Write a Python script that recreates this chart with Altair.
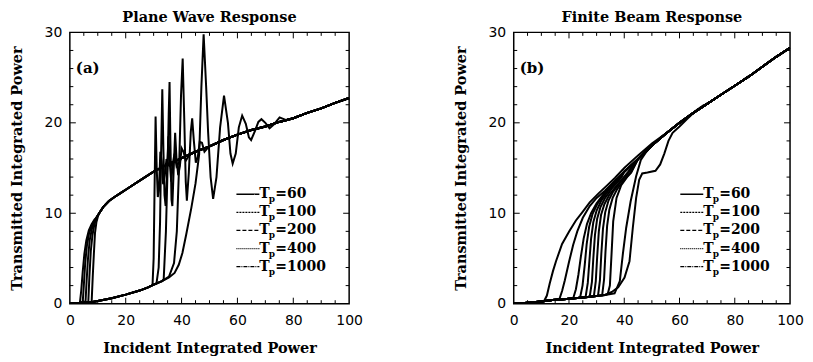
import altair as alt
import pandas as pd

# ---------------- data ----------------
TP = ["60", "100", "200", "400", "1000"]
LEGEND_DASHES = [[1, 0], [2, 1], [4, 2], [1, 1], [4, 1, 1, 1]]

X_TICKS = [0, 20, 40, 60, 80, 100]
Y_TICKS = [0, 10, 20, 30]
X_MAJOR_IN = [20, 40, 60, 80]
X_MINOR_IN = [5, 10, 15, 25, 30, 35, 45, 50, 55, 65, 70, 75, 85, 90, 95]
Y_MAJOR_IN = [10, 20]
Y_MINOR_IN = [2, 4, 6, 8, 12, 14, 16, 18, 22, 24, 26, 28]

# ---- panel (a): plane wave ----
A_LOW_X = [0, 2, 4, 6, 8, 10, 15, 20, 25, 28, 30, 33]
A_LOW_Y = [0.0, 0.05, 0.1, 0.15, 0.2, 0.3, 0.6, 1.0, 1.45, 1.8, 2.1, 2.5]
A_UP_X = [9.5, 10.5, 12, 14, 16, 18, 20, 25, 30, 35, 40, 45, 50, 55, 60, 65, 70, 75, 80, 85, 90, 95, 100]
A_UP_Y = [9.5, 10.0, 10.7, 11.35, 11.8, 12.2, 12.6, 13.6, 14.6, 15.4, 16.1, 16.8, 17.4, 18.1, 18.7, 19.2,
          19.6, 20.1, 20.5, 21.1, 21.6, 22.2, 22.75]

A_L1_X = [3.6, 4.1, 4.6, 5.2, 5.9, 6.8, 7.8, 8.8]
A_L1_Y = [0.1, 1.5, 3.5, 5.5, 7.0, 8.1, 8.8, 9.3]
A_L2_X = [4.6, 5.0, 5.5, 6.1, 6.9, 7.9, 8.9]
A_L2_Y = [0.12, 2.0, 4.5, 6.4, 7.8, 8.7, 9.2]
A_L3_X = [5.6, 6.0, 6.5, 7.1, 7.9, 8.8]
A_L3_Y = [0.14, 2.5, 5.0, 7.0, 8.3, 9.1]
A_L4_X = [6.6, 7.0, 7.5, 8.1, 8.8, 9.4]
A_L4_Y = [0.16, 3.0, 5.8, 7.6, 8.8, 9.4]
A_L5_X = [7.8, 8.2, 8.6, 9.0, 9.5, 10.1]
A_L5_Y = [0.19, 3.0, 5.5, 7.8, 9.0, 9.7]

A_H1_X = [29.6, 30.0, 30.3, 30.7, 31.1, 31.5, 31.9, 32.4, 32.9, 33.4, 34.0, 34.6, 35.3, 36.0, 37.0]
A_H1_Y = [2.05, 5.0, 12.0, 20.7, 15.0, 11.8, 12.5, 16.8, 15.8, 13.2, 14.2, 16.0, 15.3, 15.2, 15.6]
A_H2_X = [31.0, 31.8, 32.3, 32.7, 33.1, 33.5, 33.9, 34.3, 34.8, 35.3, 35.8, 36.3, 36.9, 37.5, 38.2, 39.0]
A_H2_Y = [2.2, 4.0, 9.0, 17.0, 23.7, 17.0, 12.0, 10.8, 14.5, 18.5, 15.5, 13.5, 15.6, 16.6, 15.2, 15.6]
A_H3_X = [33.6, 34.4, 35.0, 35.4, 35.7, 36.0, 36.4, 36.7, 37.2, 37.7, 38.2, 38.8, 39.4, 40.0, 40.7, 41.5,
          42.5, 43.5]
A_H3_Y = [2.7, 8.0, 15.0, 21.0, 24.5, 18.0, 11.5, 10.8, 15.0, 18.9, 16.0, 14.2, 15.2, 17.2, 16.8, 15.8,
          16.3, 16.6]
A_H4_X = [35.5, 37.3, 38.3, 39.2, 39.8, 40.4, 41.0, 41.5, 41.9, 42.6, 43.3, 43.8, 44.4, 45.1, 45.8, 46.5,
          47.3, 48.2, 49.0]
A_H4_Y = [3.0, 4.5, 8.0, 16.0, 23.0, 27.1, 20.0, 13.5, 11.4, 14.5, 19.0, 20.5, 18.0, 15.6, 16.2, 17.9,
          17.8, 16.8, 17.1]
A_H5_X = [35.5, 37.5, 39.0, 40.3, 41.7, 43.5, 45.0, 46.3, 47.1, 47.9, 48.8, 49.5, 50.4, 51.3, 52.5, 53.8,
          55.2, 56.6, 57.5, 58.3, 59.4, 60.5, 61.7, 63.0, 64.1, 64.9, 66.3, 67.5, 68.6, 70.0, 71.5, 73.3,
          75.1, 77.5]
A_H5_Y = [2.9, 3.4, 4.3, 5.6, 7.7, 10.6, 13.3, 16.5, 24.0, 29.8, 24.0, 19.0, 14.0, 11.6, 14.0, 19.5,
          23.0, 20.0, 16.6, 15.5, 16.6, 19.5, 20.8, 19.9, 18.4, 18.1, 19.1, 20.1, 20.4, 20.0, 19.4, 19.9,
          20.6, 20.3]

# ---- panel (b): finite beam ----
B_LOW_X = [0, 3, 6, 10, 14, 18, 22, 26, 30, 33]
B_LOW_Y = [0.0, 0.05, 0.12, 0.25, 0.4, 0.5, 0.6, 0.72, 0.85, 0.97]
B_UP_X = [35, 40, 45, 50, 55, 60, 65, 70, 75, 80, 85, 90, 95, 100]
B_UP_Y = [13.1, 14.6, 16.0, 17.5, 18.8, 20.0, 21.1, 22.1, 23.1, 24.1, 25.1, 26.2, 27.3, 28.3]

B_C1_X = [11.0, 12.0, 13.0, 14.2, 15.3, 17.5, 20.1, 22.5, 24.8, 27.5, 30.7, 33.5, 36.6, 40.0, 45.0, 50.0]
B_C1_Y = [0.3, 0.9, 2.2, 3.6, 4.7, 6.6, 8.0, 9.2, 10.1, 11.2, 12.2, 13.0, 13.9, 15.0, 16.4, 17.7]
B_C2_X = [16.5, 17.5, 18.5, 20.0, 21.5, 23.0, 25.0, 27.5, 30.0, 33.0, 36.0, 38.0]
B_C2_Y = [0.48, 1.4, 2.6, 4.6, 6.5, 8.0, 9.5, 10.8, 11.7, 12.5, 13.4, 14.0]
B_C3_X = [21.5, 22.5, 23.4, 24.3, 25.3, 26.5, 28.0, 30.0, 32.5, 35.5, 38.0]
B_C3_Y = [0.58, 1.6, 3.2, 5.2, 7.2, 8.8, 10.0, 11.1, 12.1, 13.1, 13.9]
B_C4_X = [24.0, 24.9, 25.7, 26.4, 27.3, 28.5, 30.2, 32.5, 35.3, 38.0]
B_C4_Y = [0.66, 2.0, 4.3, 6.6, 8.5, 9.9, 11.0, 12.0, 13.0, 13.8]
B_C5_X = [26.0, 26.8, 27.4, 28.0, 28.8, 30.0, 31.7, 34.0, 36.8, 39.0]
B_C5_Y = [0.72, 2.3, 4.8, 7.2, 9.0, 10.3, 11.4, 12.4, 13.3, 14.0]
B_C6_X = [27.5, 28.3, 28.8, 29.4, 30.2, 31.4, 33.1, 35.4, 38.0]
B_C6_Y = [0.77, 2.4, 5.0, 7.6, 9.4, 10.7, 11.7, 12.7, 13.6]
B_C7_X = [29.0, 29.7, 30.2, 30.8, 31.6, 32.8, 34.5, 36.8, 39.0, 41.5]
B_C7_Y = [0.82, 2.5, 5.2, 8.0, 9.8, 11.0, 12.0, 12.9, 13.7, 14.6]
B_C8_X = [30.5, 31.2, 31.7, 32.3, 33.1, 34.3, 36.0, 38.3, 41.0]
B_C8_Y = [0.87, 2.6, 5.5, 8.3, 10.1, 11.4, 12.4, 13.3, 14.3]
B_C9_X = [32.0, 32.7, 33.2, 33.8, 34.6, 35.8, 37.5, 39.8, 42.5]
B_C9_Y = [0.93, 2.7, 5.7, 8.6, 10.4, 11.7, 12.7, 13.6, 14.6]
B_C10_X = [34.0, 34.8, 35.4, 36.0, 37.2, 38.9, 41.0, 42.5]
B_C10_Y = [1.05, 2.0, 5.5, 9.1, 11.7, 13.1, 14.0, 14.5]
B_C11_X = [36.5, 38.4, 39.5, 40.7, 42.3, 44.3, 46.0, 48.0]
B_C11_Y = [1.15, 2.5, 5.5, 8.4, 11.3, 14.1, 15.9, 16.8]
B_C12_X = [35.5, 37.8, 40.1, 41.9, 43.1, 44.3, 45.4, 46.5, 48.4, 51.3, 53.0, 54.5, 56.0, 57.5, 60.0,
           63.0, 66.1, 68.5]
B_C12_Y = [1.3, 1.8, 2.9, 4.7, 8.4, 11.7, 13.7, 14.4, 14.5, 14.7, 15.4, 16.6, 18.0, 18.9, 19.6, 20.5,
           21.4, 21.9]


def build_curve(low_x, low_y, own_x, own_y, up_x, up_y):
    xs = [x for x in low_x if x < own_x[0]] + own_x + [x for x in up_x if x > own_x[-1]]
    ys = ([y for x, y in zip(low_x, low_y) if x < own_x[0]] + own_y
          + [y for x, y in zip(up_x, up_y) if x > own_x[-1]])
    return xs, ys


def make_df(curves, low_x, low_y, up_x, up_y):
    rows = []
    for name, tp, ox, oy in curves:
        xs, ys = build_curve(low_x, low_y, ox, oy, up_x, up_y)
        for i, (x, y) in enumerate(zip(xs, ys)):
            rows.append({"curve": name, "tp": tp, "i": i, "x": x, "y": y})
    return pd.DataFrame(rows)


A_CURVES = [
    ("L1", "1000", A_L1_X, A_L1_Y), ("L2", "400", A_L2_X, A_L2_Y), ("L3", "200", A_L3_X, A_L3_Y),
    ("L4", "100", A_L4_X, A_L4_Y), ("L5", "60", A_L5_X, A_L5_Y),
    ("H1", "1000", A_H1_X, A_H1_Y), ("H2", "400", A_H2_X, A_H2_Y), ("H3", "200", A_H3_X, A_H3_Y),
    ("H4", "100", A_H4_X, A_H4_Y), ("H5", "60", A_H5_X, A_H5_Y),
]
B_CURVES = [
    ("C1", "1000", B_C1_X, B_C1_Y), ("C2", "1000", B_C2_X, B_C2_Y), ("C3", "400", B_C3_X, B_C3_Y),
    ("C4", "400", B_C4_X, B_C4_Y), ("C5", "200", B_C5_X, B_C5_Y), ("C6", "200", B_C6_X, B_C6_Y),
    ("C7", "100", B_C7_X, B_C7_Y), ("C8", "100", B_C8_X, B_C8_Y), ("C9", "60", B_C9_X, B_C9_Y),
    ("C10", "60", B_C10_X, B_C10_Y), ("C11", "100", B_C11_X, B_C11_Y), ("C12", "60", B_C12_X, B_C12_Y),
]

df_a = make_df(A_CURVES, A_LOW_X, A_LOW_Y, A_UP_X, A_UP_Y)
df_b = make_df(B_CURVES, B_LOW_X, B_LOW_Y, B_UP_X, B_UP_Y)

SERIF = "DejaVu Serif"
SANS = "DejaVu Sans"
H = 272


def panel(df, title, tag, W):
    xs = alt.Scale(domain=[0, 100], nice=False, zero=False)
    ys = alt.Scale(domain=[0, 30], nice=False, zero=False)
    xaxis = alt.Axis(values=X_TICKS, ticks=False, domain=False, grid=False, labelFlush=False,
                     labelFont=SANS, labelFontSize=14, labelColor="black", labelPadding=10,
                     titleFont=SERIF, titleFontSize=14.5, titleFontWeight="bold", titleColor="black",
                     titlePadding=14, format="d")
    yaxis = alt.Axis(values=Y_TICKS, ticks=False, domain=False, grid=False, labelFlush=False,
                     labelFont=SANS, labelFontSize=14, labelColor="black", labelPadding=8,
                     titleFont=SERIF, titleFontSize=14.5, titleFontWeight="bold", titleColor="black",
                     titlePadding=20, format="d")

    def X(f):
        return alt.X(f, type="quantitative", scale=xs, axis=xaxis, title="Incident Integrated Power")

    def Y(f):
        return alt.Y(f, type="quantitative", scale=ys, axis=yaxis, title="Transmitted Integrated Power")

    dash = alt.StrokeDash("tp:N", scale=alt.Scale(domain=TP, range=LEGEND_DASHES), legend=None)

    lines = alt.Chart(df).mark_line(color="black", strokeWidth=2.0, clip=True).encode(
        x=X("x"), y=Y("y"), detail="curve:N", order="i:Q")

    layers = [lines]
    # inner ticks on all four sides
    for vals, ln in ((X_MAJOR_IN, 6), (X_MINOR_IN, 3.5)):
        d = pd.DataFrame({"v": vals})
        layers.append(alt.Chart(d).mark_rule(color="black", strokeWidth=1).encode(
            x=X("v"), y=alt.value(H), y2=alt.value(H - ln)))
        layers.append(alt.Chart(d).mark_rule(color="black", strokeWidth=1).encode(
            x=X("v"), y=alt.value(0), y2=alt.value(ln)))
    for vals, ln in ((Y_MAJOR_IN, 6), (Y_MINOR_IN, 3.5)):
        d = pd.DataFrame({"v": vals})
        layers.append(alt.Chart(d).mark_rule(color="black", strokeWidth=1).encode(
            y=Y("v"), x=alt.value(0), x2=alt.value(ln)))
        layers.append(alt.Chart(d).mark_rule(color="black", strokeWidth=1).encode(
            y=Y("v"), x=alt.value(W), x2=alt.value(W - ln)))

    # legend
    leg = pd.DataFrame({"tp": TP, "idx": list(range(len(TP))), "lab": ["=" + t for t in TP]})
    base = alt.Chart(leg).transform_calculate(ly="12.1 - 2 * datum.idx")
    layers.append(base.mark_rule(color="black", strokeWidth=1.3).encode(
        x=alt.value(167), x2=alt.value(190), y=Y("ly"), strokeDash=dash))
    layers.append(base.mark_text(align="left", baseline="middle", font=SERIF, fontSize=14,
                                 fontWeight="bold", color="black").encode(
        x=alt.value(190), y=Y("ly"), text=alt.value("T")))
    layers.append(base.mark_text(align="left", baseline="middle", font=SERIF, fontSize=9,
                                 fontWeight="bold", color="black", dy=5).encode(
        x=alt.value(199.5), y=Y("ly"), text=alt.value("p")))
    layers.append(base.mark_text(align="left", baseline="middle", font=SERIF, fontSize=14,
                                 fontWeight="bold", color="black").encode(
        x=alt.value(206), y=Y("ly"), text="lab:N"))

    # panel tag
    layers.append(alt.Chart(pd.DataFrame({"t": [tag]})).mark_text(
        align="left", baseline="middle", font=SERIF, fontSize=15, fontWeight="bold",
        color="black").encode(x=alt.value(6), y=alt.value(36), text="t:N"))

    return alt.layer(*layers).properties(
        width=W, height=H,
        title=alt.TitleParams(title, font=SERIF, fontSize=14.5, fontWeight="bold", color="black",
                              offset=0, anchor="middle"))


left = panel(df_a, "Plane Wave Response", "(a)", 280)
right = panel(df_b, "Finite Beam Response", "(b)", 277)

chart = alt.hconcat(left, right, spacing=88).properties(
    padding={"left": 0, "top": 0, "right": 0, "bottom": 0}, background="white"
).configure_view(stroke="black", strokeWidth=1.5)

chart.save("out.html", embed_options={"renderer": "svg", "actions": False})
